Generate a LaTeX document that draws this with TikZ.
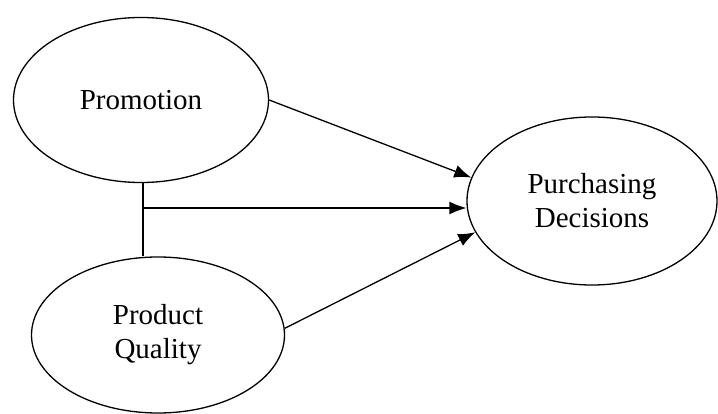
\documentclass[tikz,border=0pt]{standalone}
\usepackage{fontspec}
\setmainfont{Liberation Serif}
\usetikzlibrary{shapes.geometric,arrows.meta}
\begin{document}
\begin{tikzpicture}[x=1pt,y=-1pt,line width=1.3pt,
    var/.style={ellipse,draw,inner sep=0pt,align=center,
        font=\fontsize{29}{34}\selectfont},
    arr/.style={-{Latex[length=17pt,width=13pt]}}]
    \useasboundingbox (0,0) rectangle (718,414);
    \node[var,minimum width=255,minimum height=165] (prom) at (141,100) {Promotion};
    \node[var,minimum width=250,minimum height=168] (purch) at (592,201) {Purchasing\\Decisions};
    \node[var,minimum width=253,minimum height=156] (qual) at (158,335) {Product\\Quality};
    \coordinate (junc) at (143,208);
    \draw (prom.south -| junc) -- (junc |- qual.north);
    \draw[arr] (prom.east) -- (purch.169);
    \draw[arr] (junc) -- (junc -| purch.west);
    \draw[arr] (qual.3) -- (purch.195);
\end{tikzpicture}
\end{document}
